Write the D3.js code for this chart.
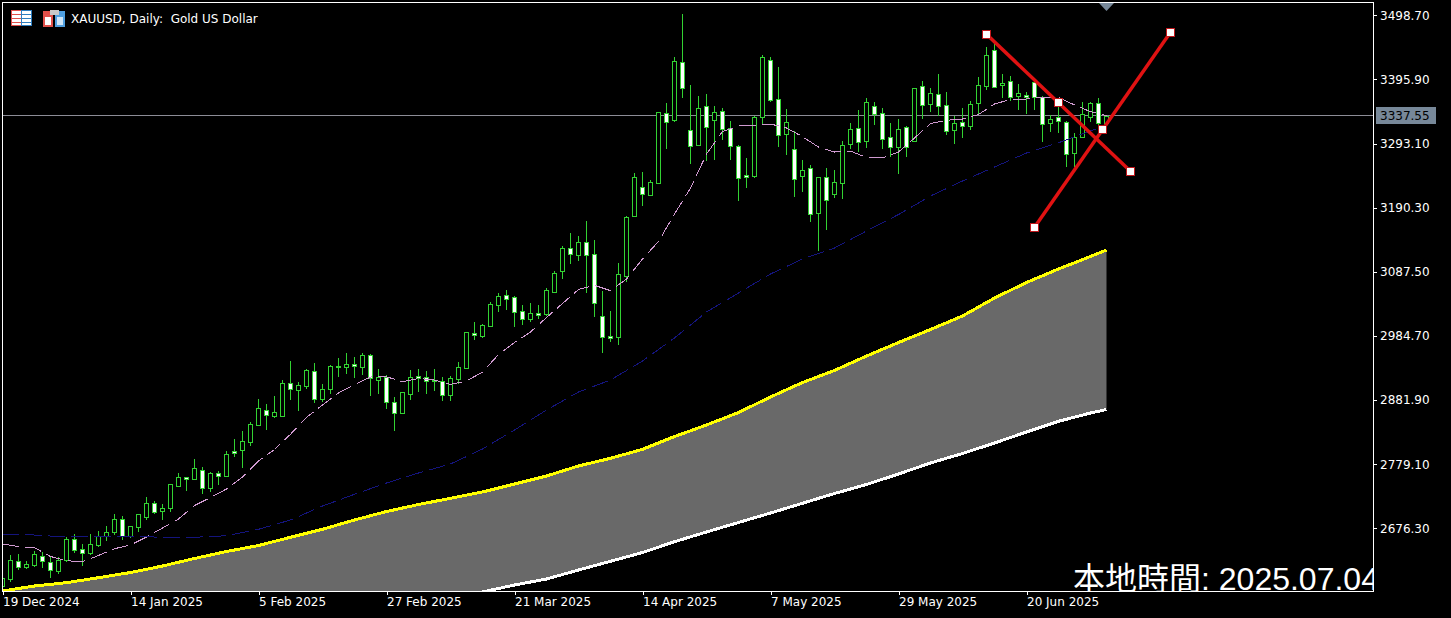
<!DOCTYPE html>
<html>
<head>
<meta charset="utf-8">
<style>
  html, body { margin: 0; padding: 0; background: #000; overflow: hidden; }
  svg { display: block; }
  text { font-family: 'DejaVu Sans', sans-serif; }
</style>
<script src="https://cdn.jsdelivr.net/npm/d3@7"></script>
</head>
<body>
<div id="chart"></div>
<script>
const opens = [
  2583.8,2595.5,2623.4,2614.7,2617.9,2631.4,2621.8,2607.3,2625.9,2658.6,
  2642.6,2637.2,2649.5,2663.5,2670.8,2690.7,2663.9,2678.8,2694.4,2716.4,
  2704.5,2708.3,2744.6,2758,2755.8,2769.3,2741.4,2764.5,2760.6,2800.2,
  2802.3,2815.1,2841.9,2866.4,2856.8,2856.8,2908.7,2898.5,2904.9,2928.9,
  2883.6,2900.1,2936.5,2934.4,2939.7,2935.3,2953.6,2914.5,2919.3,2878.3,
  2860.6,2892.1,2919.9,2919.3,2914,2912.9,2889.5,2916.4,2933.7,2988.9,
  2985,3000.6,3034.7,3049.8,3046.6,3024.2,3012.3,3020.9,3020.3,3055.1,
  3089.2,3125.2,3114.9,3135.7,3115.5,3017.1,2984.6,2983.4,3081.2,3176.9,
  3222.9,3211.1,3230.3,3342.5,3331.3,3423.3,3315.3,3291.2,3353.8,3331.3,
  3345.7,3318.5,3288.7,3242.2,3241.5,3336.1,3426.5,3365,3308.9,3283.9,
  3240.6,3253.4,3181.3,3239.9,3211.7,3229.4,3291.9,3318.5,3296.7,3352.8,
  3342.5,3303.1,3287.1,3320.1,3296.7,3384.9,3356,3373,3354.4,3315.3,
  3327.1,3321.7,3358.6,3385.8,3442.6,3386.5,3392.9,3369.8,3370.4,3392.2,
  3367.7,3325.5,3335.2,3328.1,3278.4,3304.1,3336.1,3358.6,3325.5
];
const closes = [
  2596.6,2625.5,2614.7,2618.6,2634.6,2623.4,2608.9,2625,2659.1,2641,
  2637.2,2650.6,2663.5,2670.8,2690.7,2664.4,2679.5,2698.7,2716.4,2702.9,
  2708.3,2746.8,2758,2755.8,2772.5,2741.4,2764.9,2760.6,2794.9,2797,
  2815.8,2843,2868.7,2857.4,2862.2,2908.7,2899.1,2905.5,2930.1,2883.1,
  2899.1,2936,2934.4,2939.2,2936.9,2954.1,2917.2,2918.4,2878.3,2860.6,
  2894.8,2918.4,2916.7,2911.9,2913.2,2889.5,2916.7,2934.4,2990.5,2986.6,
  3001.7,3035.4,3048.2,3044.4,3023.5,3012.3,3020.9,3018.2,3057.8,3085.1,
  3125.2,3115.5,3134.8,3113.9,3037.9,2983.4,2981.4,3083.5,3175.8,3239,
  3211.7,3231,3343.2,3327.1,3424.9,3381.6,3288.7,3349.6,3319.1,3344.1,
  3316.9,3288.7,3238.3,3239.9,3335.2,3431.3,3362.9,3306.3,3327.1,3235.8,
  3250.2,3179.7,3239.9,3202.1,3231,3290.3,3315.9,3295.1,3359.2,3340.9,
  3299.9,3287.1,3316.9,3288,3381.6,3354.4,3373.6,3352.8,3312.7,3325.5,
  3321.7,3356,3386.5,3434.5,3383.7,3389.7,3368.2,3373.6,3368.2,3367.7,
  3323.9,3332,3328.7,3275.8,3303.1,3340,3357.6,3326.5,3337.55
];
const highs = [
  2601.4,2633.5,2635.1,2624.3,2640.4,2638.8,2630.8,2630.8,2662.3,2667.1,
  2651.1,2667.1,2672,2680,2699.2,2696,2680,2698.7,2726.5,2720,
  2714.8,2746.8,2764.9,2758.5,2787.4,2774.1,2766.1,2768.2,2800.2,2819.4,
  2831.8,2846.7,2883.1,2875.1,2888.4,2913.5,2944.5,2910.8,2931.2,2941.3,
  2907.6,2938.1,2949.3,2956.8,2950.9,2956.8,2955.7,2931.7,2922,2886.8,
  2895.3,2929.6,2931.7,2928,2931.7,2919.3,2920.4,2942.4,2990.5,3007,
  3004.3,3038.6,3053,3058.3,3048.7,3034.3,3037,3034.3,3061,3088.8,
  3128.4,3149.2,3144.9,3168.9,3138.5,3056.7,3024.6,3101.6,3176.9,3245.4,
  3247,3234.2,3343.2,3358.1,3431.8,3500.8,3386.5,3368.8,3372,3352.8,
  3349.6,3329.2,3290.3,3269.9,3337.7,3435,3431.8,3415.8,3348.5,3313.2,
  3266.7,3258.7,3239.9,3253.4,3250.2,3297.2,3325.5,3346.9,3365.6,3359.7,
  3349.6,3325.5,3332.4,3321.7,3382.6,3393.3,3382.1,3404.1,3375.7,3337.2,
  3349.6,3361.3,3399.8,3447.4,3452.7,3404.1,3401.4,3388.1,3375.2,3395,
  3368.8,3338.8,3361.3,3329.2,3309.5,3359.2,3359.2,3365.6,3338.8
];
const lows = [
  2577.4,2590.7,2609.4,2610.6,2613.8,2612.6,2597.1,2603,2622.2,2637.2,
  2616.3,2633.5,2645.8,2656.4,2666,2658,2660.7,2670.3,2689.6,2699.7,
  2689.6,2702.9,2743,2736.6,2753.7,2731.8,2735,2745.7,2759,2791.1,
  2772.9,2808.2,2840.3,2833.9,2853.6,2856.8,2882,2864.3,2899.6,2877.6,
  2878.8,2891.6,2918.8,2923.6,2917.2,2921.6,2888.4,2891.6,2867.5,2832.7,
  2860.6,2882,2894.8,2891.6,2896.4,2880.4,2880.8,2907.6,2933.7,2978.1,
  2981.4,2998.5,3023,3026.2,2999,3002.2,3007,3011.8,3016.6,3054,
  3075.9,3100,3104.8,3054,3015,2957.8,2974.9,2970.1,3071.6,3175.8,
  3193.4,3209.5,3230.3,3284.8,3328.1,3366.6,3260.8,3291.2,3265.6,3267.2,
  3299.2,3267.2,3201.5,3222.3,3238.3,3323.3,3360.2,3288,3274.7,3207.9,
  3215.9,3167.8,3121.3,3154.5,3206.3,3204.2,3284.8,3279,3285.9,3322.8,
  3284.8,3272,3244.7,3272,3296.7,3332.9,3343.7,3337.2,3307.3,3292.4,
  3302,3314.8,3338.8,3378.9,3382.1,3366.1,3361.3,3346.9,3340.9,3346.9,
  3296,3312.1,3310.5,3256,3256,3303.1,3328.1,3321.2,3318
];

// pink MA, read at every second bar
const pinkMa = [
  2651.1,2647.1,2645.2,2631.1,2624.3,2622.7,2632.7,2643.6,2649.5,2662.3,
  2676.8,2691.2,2712.8,2725.7,2739.3,2758.5,2784.2,2802.6,2827,2854.2,
  2873.9,2893.2,2906.5,2918.8,2919.2,2911.3,2916.4,2914,2907.1,2912.4,
  2926.8,2954.9,2974.1,2991,3014.2,3036.7,3059.1,3065.8,3057.2,3075.9,
  3108,3136.1,3180.1,3221.8,3276.3,3312.4,3321.2,3322,3324.4,3318,
  3304.1,3287.5,3279.5,3281.1,3270.7,3269.9,3279.5,3302,3325.2,3330.3,
  3332.4,3339.6,3356.5,3363.7,3364.5,3367.2,3367.2,3354.9,3344.1,3337.7
];
// the slower lines, read at every fourth bar and the last one
const slowBars = [0,4,8,12,16,20,24,28,32,36,40,44,48,52,56,60,64,68,72,76,80,84,88,92,96,100,104,108,112,116,120,124,128,132,136,138];
const navyMa = [
  2666.7,2665.5,2662.3,2663.5,2663.5,2661.9,2661.9,2664.4,2674.7,2689.6,
  2712,2730.8,2748.9,2764.9,2779.4,2803.4,2833.9,2865.9,2894.8,2914,
  2944.5,2981.4,3023,3053.5,3084,3108,3125.6,3152.9,3179.3,3209,
  3233,3255.5,3277.9,3294.4,3313.2,3322.8
];
const yellowMa = [
  2575.8,2583.8,2589.1,2597.1,2605.4,2615.8,2627.9,2639.1,2648.7,2661.9,
  2674.7,2689.6,2703.2,2714.4,2724.4,2734.5,2747.3,2760.1,2776.2,2788.5,
  2802.9,2823.4,2841.9,2861.9,2886.8,2910,2929.3,2952.5,2974.1,2995,
  3016.6,3045.5,3070.3,3092,3112,3122.4
];
// white line is under the visible range before bar 60
const whiteMa = [
  null,null,null,null,null,null,null,null,null,null,null,null,null,null,null,
  2574.2,2585.4,2595,2609.4,2623.4,2637.5,2654.8,2670.4,2685.6,2700.8,
  2716.4,2732.1,2746.5,2763.3,2781,2796.2,2813,2830.7,2847.8,2861.1,2866.7
];

const priceTicks = [3498.7,3395.9,3293.1,3190.3,3087.5,2984.7,2881.9,2779.1,2676.3];
const dateTickBars = [0,16,32,48,64,80,96,112,128];
const dateLabels = ['19 Dec 2024','14 Jan 2025','5 Feb 2025','27 Feb 2025','21 Mar 2025','14 Apr 2025','7 May 2025','29 May 2025','20 Jun 2025'];

const currentPrice = 3337.55;
const lastBar = 138;

// two drawn trend lines: [bar, price] ends
const trendDown = [[123, 3468.2], [141, 3248.6]];
const trendUp = [[129, 3158.8], [146, 3471.4]];

const svgWidth = 1451;
const svgHeight = 618;
const plot = { left: 2, right: 1373, top: 2, bottom: 591 };

const svg = d3.select('#chart').append('svg').attr('width', svgWidth).attr('height', svgHeight).style('background', '#000');

svg.append('defs').append('clipPath').attr('id', 'plot-clip').append('rect')
  .attr('x', plot.left).attr('y', plot.top)
  .attr('width', plot.right - plot.left).attr('height', plot.bottom - plot.top);

const x = d3.scaleLinear().domain([0, 171]).range([2.5, 1370.5]);
const y = d3.scaleLinear().domain([2575.77, 3520]).range([plot.bottom, plot.top]);

const chartG = svg.append('g').attr('clip-path', 'url(#plot-clip)');

// current price line sits behind everything
chartG.append('line')
  .attr('x1', plot.left).attr('x2', plot.right)
  .attr('y1', Math.floor(y(currentPrice)) + 0.5).attr('y2', Math.floor(y(currentPrice)) + 0.5)
  .attr('stroke', '#8c8c96').attr('stroke-width', 1);

const band = slowBars.map((b, i) => ({ bar: b, top: yellowMa[i], bottom: whiteMa[i] }));
chartG.append('path')
  .datum(band)
  .attr('fill', '#696969')
  .attr('d', d3.area().x(d => x(d.bar)).y0(d => d.bottom === null ? plot.bottom + 5 : y(d.bottom)).y1(d => y(d.top)));

const lineAt = d3.line().x(d => x(d[0])).y(d => y(d[1]));

chartG.append('path')
  .datum(slowBars.map((b, i) => [b, yellowMa[i]]))
  .attr('fill', 'none').attr('stroke', '#ffff00').attr('stroke-width', 3)
  .attr('shape-rendering', 'crispEdges')
  .attr('d', lineAt);

chartG.append('path')
  .datum(slowBars.map((b, i) => [b, whiteMa[i]]).filter(d => d[1] !== null))
  .attr('fill', 'none').attr('stroke', '#ffffff').attr('stroke-width', 3)
  .attr('shape-rendering', 'crispEdges')
  .attr('d', lineAt);

// candles
const candles = opens.map((o, i) => ({ i, o, c: closes[i], h: highs[i], l: lows[i] }));
const candleG = chartG.append('g').attr('shape-rendering', 'crispEdges');
const green = '#32d232';

candleG.selectAll('line').data(candles).join('line')
  .attr('x1', d => x(d.i)).attr('x2', d => x(d.i))
  .attr('y1', d => Math.round(y(d.h))).attr('y2', d => Math.round(y(d.l)))
  .attr('stroke', green).attr('stroke-width', 1);

candleG.selectAll('rect').data(candles).join('rect')
  .attr('x', d => x(d.i) - 2)
  .attr('width', 4)
  .attr('y', d => Math.round(y(Math.max(d.o, d.c))) + 0.5)
  .attr('height', d => Math.max(Math.round(y(Math.min(d.o, d.c))) - Math.round(y(Math.max(d.o, d.c))), 1))
  .attr('fill', d => d.c >= d.o ? '#000' : '#fff')
  .attr('stroke', green).attr('stroke-width', 1);

// moving averages are dashed thin lines on top of the candles
chartG.append('path')
  .datum(pinkMa.map((v, i) => [i * 2, v]))
  .attr('fill', 'none').attr('stroke', '#d09ad0').attr('stroke-width', 1).attr('stroke-dasharray', '17 6')
  .attr('shape-rendering', 'crispEdges')
  .attr('d', lineAt);

chartG.append('path')
  .datum(slowBars.map((b, i) => [b, navyMa[i]]))
  .attr('fill', 'none').attr('stroke', '#14147d').attr('stroke-width', 1).attr('stroke-dasharray', '17 6')
  .attr('shape-rendering', 'crispEdges')
  .attr('d', lineAt);

// trend lines and their handles
[trendDown, trendUp].forEach(pts => {
  chartG.append('path').datum(pts)
    .attr('fill', 'none').attr('stroke', '#e01212').attr('stroke-width', 3.5)
    .attr('d', lineAt);
});
const handles = [];
[trendDown, trendUp].forEach(pts => {
  handles.push(pts[0], pts[1], [(pts[0][0] + pts[1][0]) / 2, (pts[0][1] + pts[1][1]) / 2]);
});
chartG.append('g').selectAll('rect').data(handles).join('rect')
  .attr('x', d => Math.floor(x(d[0])) - 3.5)
  .attr('y', d => Math.floor(y(d[1])) - 3.5)
  .attr('width', 8).attr('height', 8)
  .attr('fill', '#fff').attr('stroke', '#c0181c').attr('stroke-width', 1)
  .attr('shape-rendering', 'crispEdges');

// local time caption, cut off by the frame on the right
chartG.append('text')
  .attr('x', 1073).attr('y', 590)
  .attr('fill', '#fff')
  .style('font-family', "'Liberation Sans', 'Noto Sans CJK TC', sans-serif")
  .style('font-size', '32px')
  .text('本地時間: 2025.07.04');

// shift marker above the last bar
svg.append('path')
  .attr('fill', '#778899')
  .attr('d', d3.line()([[x(lastBar) - 7.5, plot.top + 1], [x(lastBar) + 7.5, plot.top + 1], [x(lastBar), plot.top + 9]]));

// frame
svg.append('rect')
  .attr('x', plot.left + 0.5).attr('y', plot.top + 0.5)
  .attr('width', plot.right - plot.left).attr('height', plot.bottom - plot.top)
  .attr('fill', 'none').attr('stroke', '#fff').attr('stroke-width', 1);

// axes
const yAxis = d3.axisRight(y).tickValues(priceTicks).tickSize(4).tickPadding(3).tickFormat(d3.format('.2f'));
const yAxisG = svg.append('g').attr('transform', `translate(${plot.right},0)`).call(yAxis);
const xAxis = d3.axisBottom(x).tickValues(dateTickBars).tickSize(4).tickPadding(2).tickFormat((d, i) => dateLabels[i]);
const xAxisG = svg.append('g').attr('transform', `translate(0,${plot.bottom})`).call(xAxis);

[yAxisG, xAxisG].forEach(g => {
  g.select('.domain').remove();
  g.selectAll('line').attr('stroke', '#fff').attr('shape-rendering', 'crispEdges');
  g.selectAll('text').attr('fill', '#fff').style('font-size', '12px').style('font-family', "'DejaVu Sans', sans-serif");
});
xAxisG.selectAll('text').attr('text-anchor', 'start').attr('x', 0);

// current price tag
const tagY = Math.floor(y(currentPrice)) + 0.5;
svg.append('rect').attr('x', 1376).attr('y', tagY - 8.5).attr('width', 60).attr('height', 17).attr('fill', '#778899');
svg.append('text').attr('x', 1380).attr('y', tagY + 4.5).attr('fill', '#000').style('font-size', '12px').text(d3.format('.2f')(currentPrice));

// legend icons and symbol title
const iconG = svg.append('g').attr('shape-rendering', 'crispEdges');
iconG.append('rect').attr('x', 11.5).attr('y', 10.5).attr('width', 10).attr('height', 15).attr('fill', '#fff').attr('stroke', '#e0504a').attr('stroke-width', 1);
iconG.append('rect').attr('x', 21.5).attr('y', 10.5).attr('width', 10).attr('height', 15).attr('fill', '#fff').attr('stroke', '#2f7fc0').attr('stroke-width', 1);
[14.5, 18.5, 22.5].forEach(ty => {
  iconG.append('line').attr('x1', 12).attr('x2', 21).attr('y1', ty).attr('y2', ty).attr('stroke', '#e0504a');
  iconG.append('line').attr('x1', 22).attr('x2', 31).attr('y1', ty).attr('y2', ty).attr('stroke', '#2f7fc0');
});
iconG.append('rect').attr('x', 43).attr('y', 11).attr('width', 10).attr('height', 16).attr('fill', '#e0504a');
iconG.append('rect').attr('x', 55).attr('y', 11).attr('width', 10).attr('height', 16).attr('fill', '#4f9fe0');
iconG.append('rect').attr('x', 45).attr('y', 17).attr('width', 6).attr('height', 8).attr('fill', '#fff');
iconG.append('rect').attr('x', 57).attr('y', 17).attr('width', 6).attr('height', 8).attr('fill', '#cfe6f7');
iconG.append('rect').attr('x', 50).attr('y', 10).attr('width', 9).attr('height', 5).attr('fill', '#c8c8c8');

svg.append('text').attr('x', 71).attr('y', 23).attr('fill', '#fff')
  .style('font-size', '12px')
  .text('XAUUSD, Daily:  Gold US Dollar')
  .attr('xml:space', 'preserve');
</script>
</body>
</html>
